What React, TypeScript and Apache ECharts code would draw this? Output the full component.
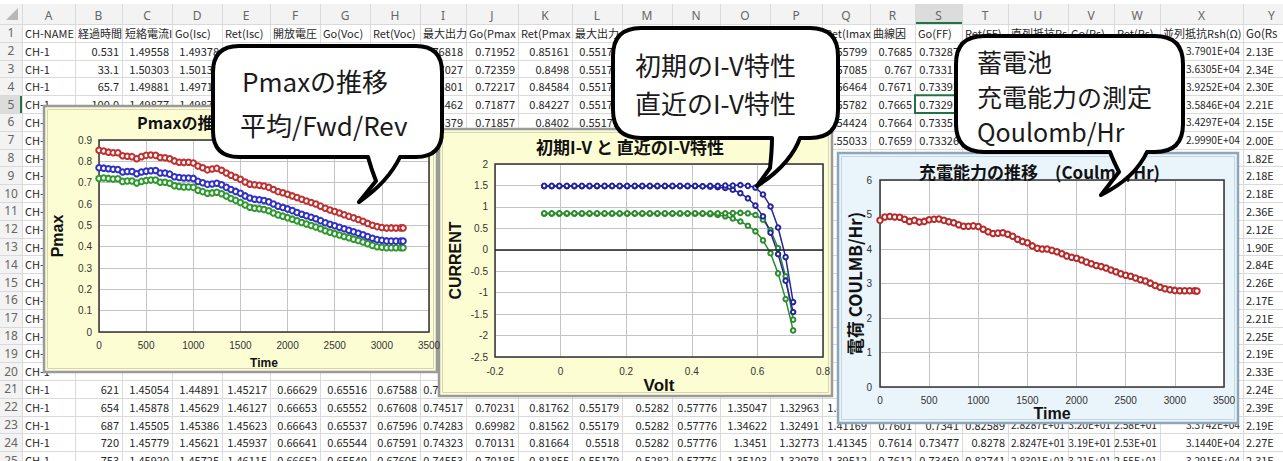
import React, { useEffect, useRef } from "react";
import * as echarts from "echarts";

// ---------------- chart data ----------------
const TIME = [0, 50, 100, 150, 200, 250, 300, 350, 400, 450, 500, 550, 600, 650, 700, 750, 800, 850, 900, 950, 1000, 1050, 1100, 1150, 1200, 1250, 1300, 1350, 1400, 1450, 1500, 1550, 1600, 1650, 1700, 1750, 1800, 1850, 1900, 1950, 2000, 2050, 2100, 2150, 2200, 2250, 2300, 2350, 2400, 2450, 2500, 2550, 2600, 2650, 2700, 2750, 2800, 2850, 2900, 2950, 3000, 3050, 3100, 3150, 3200, 3225];

const PMAX_RET = [0.852, 0.848, 0.843, 0.840, 0.840, 0.826, 0.824, 0.822, 0.812, 0.822,
  0.828, 0.830, 0.828, 0.818, 0.817, 0.812, 0.802, 0.796, 0.795, 0.796,
  0.792, 0.778, 0.770, 0.760, 0.764, 0.767, 0.758, 0.745, 0.735, 0.725,
  0.716, 0.703, 0.693, 0.690, 0.688, 0.684, 0.678, 0.668, 0.658, 0.653,
  0.646, 0.638, 0.630, 0.622, 0.614, 0.607, 0.600, 0.590, 0.580, 0.572,
  0.565, 0.558, 0.550, 0.542, 0.535, 0.527, 0.519, 0.509, 0.500, 0.494,
  0.490, 0.487, 0.488, 0.487, 0.488, 0.488];

const PMAX_AVG = [0.770, 0.768, 0.765, 0.763, 0.762, 0.750, 0.752, 0.752, 0.742, 0.750,
  0.754, 0.756, 0.757, 0.745, 0.745, 0.740, 0.728, 0.724, 0.722, 0.722,
  0.720, 0.706, 0.700, 0.692, 0.694, 0.697, 0.690, 0.678, 0.668, 0.659,
  0.650, 0.638, 0.628, 0.622, 0.620, 0.616, 0.610, 0.600, 0.590, 0.584,
  0.577, 0.569, 0.560, 0.552, 0.545, 0.538, 0.531, 0.522, 0.512, 0.505,
  0.498, 0.491, 0.484, 0.477, 0.470, 0.463, 0.456, 0.447, 0.439, 0.433,
  0.430, 0.427, 0.426, 0.426, 0.426, 0.426];

const PMAX_GO = [0.720, 0.722, 0.720, 0.717, 0.718, 0.706, 0.708, 0.708, 0.698, 0.706,
  0.710, 0.712, 0.712, 0.702, 0.702, 0.697, 0.686, 0.682, 0.680, 0.680,
  0.678, 0.664, 0.658, 0.650, 0.652, 0.655, 0.648, 0.637, 0.626, 0.617,
  0.607, 0.595, 0.585, 0.580, 0.578, 0.574, 0.568, 0.558, 0.549, 0.543,
  0.536, 0.529, 0.521, 0.513, 0.506, 0.499, 0.492, 0.484, 0.475, 0.468,
  0.461, 0.455, 0.448, 0.442, 0.435, 0.429, 0.422, 0.414, 0.406, 0.400,
  0.397, 0.395, 0.395, 0.395, 0.395, 0.395];

const COULOMB = [4.83, 4.93, 4.94, 4.93, 4.92, 4.86, 4.80, 4.83, 4.78, 4.80,
  4.85, 4.86, 4.87, 4.83, 4.79, 4.76, 4.70, 4.66, 4.66, 4.67,
  4.65, 4.57, 4.50, 4.45, 4.46, 4.47, 4.43, 4.37, 4.28, 4.22,
  4.18, 4.09, 4.02, 4.00, 4.00, 3.96, 3.92, 3.86, 3.80, 3.76,
  3.73, 3.68, 3.62, 3.57, 3.52, 3.49, 3.45, 3.39, 3.34, 3.28,
  3.24, 3.21, 3.16, 3.11, 3.07, 3.01, 2.94, 2.89, 2.85, 2.82,
  2.80, 2.79, 2.79, 2.79, 2.79, 2.78];

const IV_VOLT = [-0.05, -0.027, -0.004, 0.019, 0.042, 0.065, 0.088, 0.111, 0.134, 0.157, 0.18, 0.203, 0.226, 0.249, 0.272, 0.295, 0.318, 0.341, 0.364, 0.387, 0.41, 0.433, 0.456, 0.479, 0.502, 0.525, 0.548, 0.571, 0.594, 0.617, 0.64, 0.663, 0.686, 0.709];

const IV_BLUE_INIT = [1.49, 1.49, 1.49, 1.49, 1.49, 1.49, 1.49, 1.49, 1.49, 1.49, 1.49, 1.49, 1.49, 1.49, 1.49, 1.49, 1.49, 1.49, 1.49, 1.49, 1.49, 1.48, 1.49, 1.49,
  1.50, 1.50, 1.51, 1.49, 1.45, 1.29, 1.01, 0.52, -0.17, -1.22];
const IV_BLUE_NOW = [1.48, 1.48, 1.48, 1.48, 1.48, 1.48, 1.48, 1.48, 1.48, 1.48, 1.48, 1.48, 1.48, 1.48, 1.48, 1.48, 1.48, 1.48, 1.48, 1.48, 1.48,
  1.48, 1.47, 1.46, 1.44, 1.40, 1.32, 1.20, 1.03, 0.78, 0.40, -0.10, -0.72, -1.45];
const IV_GREEN_INIT = [0.85, 0.85, 0.85, 0.85, 0.85, 0.85, 0.85, 0.85, 0.85, 0.85, 0.85, 0.85, 0.85, 0.85, 0.85, 0.85, 0.85, 0.85, 0.85, 0.85, 0.85, 0.85, 0.85, 0.85,
  0.85, 0.855, 0.86, 0.85, 0.81, 0.70, 0.46, 0.04, -0.62, -1.63];
const IV_GREEN_NOW = [0.84, 0.84, 0.84, 0.84, 0.84, 0.84, 0.84, 0.84, 0.84, 0.84, 0.84, 0.84, 0.84, 0.84, 0.84, 0.84, 0.84, 0.84, 0.84, 0.84, 0.84,
  0.84, 0.83, 0.81, 0.78, 0.73, 0.66, 0.56, 0.43, 0.22, -0.08, -0.55, -1.15, -1.88];

// ---------------- spreadsheet data ----------------
const COL_LETTERS = ["A", "B", "C", "D", "E", "F", "G", "H", "I", "J", "K", "L", "M", "N", "O", "P", "Q", "R", "S", "T", "U", "V", "W", "X", "Y"];
const HEADER_ROW = ["CH-NAME", "経過時間(s)", "短絡電流Isc", "Go(Isc)", "Ret(Isc)", "開放電圧Voc", "Go(Voc)", "Ret(Voc)", "最大出力Pmax", "Go(Pmax)", "Ret(Pmax)", "最大出力Vmax", "Go(Vmax)", "Ret(Vmax)", "最大出力Imax", "Go(Imax)", "Ret(Imax)", "曲線因子", "Go(FF)", "Ret(FF)", "直列抵抗Rs(Ω)", "Go(Rs)", "Ret(Rs)", "並列抵抗Rsh(Ω)", "Go(Rsh)"];
const ROW_2 = ["CH-1", "0.531", "1.49558", "1.49378", "", "", "", "", "0.76818", "0.71952", "0.85161", "0.55179", "", "", "", "", "1.55799", "0.7685", "0.73287", "", "", "", "", "3.7901E+04", "2.13E+04"];
const ROW_3 = ["CH-1", "33.1", "1.50303", "1.50132", "", "", "", "", "0.77027", "0.72359", "0.8498", "0.55179", "", "", "", "", "1.57085", "0.767", "0.73311", "", "", "", "", "3.6305E+04", "2.34E+04"];
const ROW_4 = ["CH-1", "65.7", "1.49881", "1.49712", "", "", "", "", "0.76801", "0.72217", "0.84584", "0.55179", "", "", "", "", "1.56464", "0.7671", "0.73392", "", "", "", "", "3.9252E+04", "2.30E+04"];
const ROW_5 = ["CH-1", "100.0", "1.49877", "1.49871", "", "", "", "", "0.76462", "0.71877", "0.84227", "0.55179", "", "", "", "", "1.55782", "0.7665", "0.73291", "", "", "", "", "3.5846E+04", "2.21E+04"];
const ROW_6 = ["CH-1", "", "", "", "", "", "", "", "0.76379", "0.71857", "0.8402", "0.55179", "", "", "", "", "1.54424", "0.7664", "0.73351", "", "", "", "", "3.4297E+04", "2.15E+04"];
const ROW_7 = ["CH-1", "", "", "", "", "", "", "", "", "", "", "", "", "", "", "", "1.55033", "0.7659", "0.73326", "", "", "", "", "2.9990E+04", "2.00E+04"];
const LAST_COL_8_TO_20 = ["1.82E+04", "2.18E+04", "2.18E+04", "2.36E+04", "2.12E+04", "1.90E+04", "2.84E+04", "2.26E+04", "2.17E+04", "2.21E+04", "2.25E+04", "2.19E+04", "2.33E+04"];
const ROW_21 = ["CH-1", "621", "1.45054", "1.44891", "1.45217", "0.66629", "0.65516", "0.67588", "0.74751", "", "", "", "", "", "", "", "", "", "", "", "", "", "", "", "2.24E+04"];
const ROW_22 = ["CH-1", "654", "1.45878", "1.45629", "1.46127", "0.66653", "0.65552", "0.67608", "0.74517", "0.70231", "0.81762", "0.55179", "0.5282", "0.57776", "1.35047", "1.32963", "1.41632", "", "", "", "", "", "", "", "2.39E+04"];
const ROW_23 = ["CH-1", "687", "1.45505", "1.45386", "1.45623", "0.66643", "0.65537", "0.67596", "0.74283", "0.69982", "0.81562", "0.55179", "0.5282", "0.57776", "1.34622", "1.32491", "1.41169", "0.7601", "0.7341", "0.82589", "2.8287E+01", "3.20E+01", "2.58E+01", "3.3742E+04", "2.19E+04"];
const ROW_24 = ["CH-1", "720", "1.45779", "1.45621", "1.45937", "0.66641", "0.65544", "0.67591", "0.74323", "0.70131", "0.81664", "0.5518", "0.5282", "0.57776", "1.3451", "1.32773", "1.41345", "0.7614", "0.73477", "0.8278", "2.8247E+01", "3.19E+01", "2.53E+01", "3.1440E+04", "2.27E+04"];
const ROW_25 = ["CH-1", "753", "1.45920", "1.45725", "1.46115", "0.66652", "0.65549", "0.67605", "0.74553", "0.70185", "0.81855", "0.55179", "0.5282", "0.57776", "1.35103", "1.32978", "1.39512", "0.7612", "0.73459", "0.82741", "2.8301E+01", "3.21E+01", "2.55E+01", "3.2915E+04", "2.31E+04"];

// ---------------- bubble speech texts ----------------
const BUBBLE_1_LINES = ["Pmaxの推移", "平均/Fwd/Rev"];
const BUBBLE_2_LINES = ["初期のI-V特性", "直近のI-V特性"];
const BUBBLE_3_LINES = ["蓄電池", "充電能力の測定", "Qoulomb/Hr"];

// ---------------- layout ----------------
const W = 1283;
const H = 461;
const COL_EDGES = [0, 22, 75, 122, 172, 222, 270, 320, 370, 420, 466, 518, 572, 622, 672, 720, 770, 822, 870, 915, 962, 1008, 1068, 1114, 1160, 1243, 1300];
const HEAD_TOP = 4;
const HEAD_BOTTOM = 24;
const ROW_H = 17.8;

const G1 = { left: 99, top: 140, width: 330, height: 192 };
const G2 = { left: 495, top: 164, width: 328, height: 193 };
const G3 = { left: 880, top: 180, width: 344, height: 207 };

const FONT_JP = "'Noto Sans CJK JP', sans-serif";
const FONT_LAT = "'Liberation Sans', Arial, sans-serif";

const BUBBLE_PATHS: Record<string, string> = {
  bubbleA: "M239 46 H416 Q442 46 442 72 V131 Q442 157 416 157 H400 Q388 182 359 202 L376 181 Q371 168 368 157 H239 Q213 157 213 131 V72 Q213 46 239 46 Z",
  bubbleB: "M641 28 H810 Q838 28 838 56 V110 Q838 138 810 138 H800 Q790 165 757 186 L770 168 Q772 150 772 138 H641 Q613 138 613 110 V56 Q613 28 641 28 Z",
  bubbleC: "M984 36 H1155 Q1183 36 1183 64 V124 Q1183 152 1155 152 H1147 Q1135 178 1101 195 L1119 172 Q1113 160 1110 152 H984 Q956 152 956 124 V64 Q956 36 984 36 Z",
};
Object.keys(BUBBLE_PATHS).forEach((k) => {
  echarts.graphic.registerShape(k, (echarts.graphic as any).extendPath(BUBBLE_PATHS[k], {}));
});

function sheetRows(): string[][] {
  const blankWithLast = (last: string) => ["CH-1", ...new Array(23).fill(""), last];
  return [HEADER_ROW, ROW_2, ROW_3, ROW_4, ROW_5, ROW_6, ROW_7, ...LAST_COL_8_TO_20.map(blankWithLast), ROW_21, ROW_22, ROW_23, ROW_24, ROW_25];
}

function txt(x: number, y: number, text: string, o: any = {}, z = 0): any {
  const align = o.align || "left";
  return {
    type: "text",
    x,
    y,
    z,
    rotation: o.rotation || 0,
    silent: true,
    style: {
      text,
      fill: o.fill || "#262626",
      fontSize: o.fontSize || 12,
      fontFamily: o.fontFamily || FONT_JP,
      fontWeight: o.fontWeight || "normal",
      align,
      textAlign: align,
      verticalAlign: "middle",
      textVerticalAlign: "middle",
      ...(o.width ? { width: o.width, overflow: "truncate", ellipsis: "" } : {}),
    },
  };
}

function sheetGraphics(): any[] {
  const els: any[] = [];
  els.push({ type: "rect", z: 0, silent: true, shape: { x: 0, y: 0, width: W, height: H }, style: { fill: "#ffffff" } });
  els.push({ type: "rect", z: 0, silent: true, shape: { x: 0, y: HEAD_TOP, width: W, height: HEAD_BOTTOM - HEAD_TOP }, style: { fill: "#f3f3f3" } });
  els.push({ type: "rect", z: 0, silent: true, shape: { x: 0, y: HEAD_BOTTOM, width: COL_EDGES[1], height: H }, style: { fill: "#f3f3f3" } });
  els.push({ type: "rect", z: 0, silent: true, shape: { x: COL_EDGES[19], y: HEAD_TOP, width: COL_EDGES[20] - COL_EDGES[19], height: HEAD_BOTTOM - HEAD_TOP }, style: { fill: "#dcdcdc" } });
  els.push({ type: "line", z: 0, silent: true, shape: { x1: COL_EDGES[19], y1: HEAD_BOTTOM - 1, x2: COL_EDGES[20], y2: HEAD_BOTTOM - 1 }, style: { stroke: "#217346", lineWidth: 2 } });
  els.push({ type: "rect", z: 0, silent: true, shape: { x: 0, y: HEAD_BOTTOM + 4 * ROW_H, width: COL_EDGES[1], height: ROW_H }, style: { fill: "#dcdcdc" } });
  els.push({ type: "line", z: 0, silent: true, shape: { x1: COL_EDGES[1] - 1, y1: HEAD_BOTTOM + 4 * ROW_H, x2: COL_EDGES[1] - 1, y2: HEAD_BOTTOM + 5 * ROW_H }, style: { stroke: "#217346", lineWidth: 2 } });
  els.push({ type: "polygon", z: 0, silent: true, shape: { points: [[18, 8], [18, 20], [6, 20]] }, style: { fill: "#b8b8b8" } });
  for (let i = 1; i < COL_EDGES.length; i++) {
    const x = COL_EDGES[i] + 0.5;
    els.push({ type: "line", z: 0, silent: true, shape: { x1: x, y1: HEAD_TOP, x2: x, y2: H }, style: { stroke: "#dadada", lineWidth: 1 } });
  }
  for (let r = 0; r <= 25; r++) {
    const y = Math.round(HEAD_BOTTOM + r * ROW_H) + 0.5;
    els.push({ type: "line", z: 0, silent: true, shape: { x1: 0, y1: y, x2: W, y2: y }, style: { stroke: "#dadada", lineWidth: 1 } });
  }
  COL_LETTERS.forEach((l, c) => {
    const cx = Math.min((COL_EDGES[c + 1] + COL_EDGES[c + 2]) / 2, W - 8);
    els.push(txt(cx, (HEAD_TOP + HEAD_BOTTOM) / 2 + 1, l, { align: "center", fill: "#666", fontFamily: "'Noto Sans', sans-serif", fontSize: 12 }));
  });
  const rows = sheetRows();
  const lastCol = COL_LETTERS.length - 1;
  rows.forEach((row, ri) => {
    const yc = HEAD_BOTTOM + (ri + 0.5) * ROW_H;
    els.push(txt(11, yc, String(ri + 1), { align: "center", fill: "#666", fontFamily: "'Noto Sans', sans-serif", fontSize: 12 }));
    row.forEach((v, c) => {
      if (!v) return;
      const left = COL_EDGES[c + 1];
      const right = COL_EDGES[c + 2];
      const numeric = /^[-+\d.E]+$/.test(v);
      const sci = v.indexOf("E") >= 0;
      if (c === lastCol) {
        els.push(txt(left + 3, yc, v, { align: "left", fontSize: numeric ? 11 : 11.5, width: W - left - 5 }));
      } else if (numeric) {
        els.push(txt(right - 3, yc, v, { align: "right", fontSize: sci ? 10.2 : 11 }));
      } else {
        els.push(txt(left + 3, yc, v, { align: "left", fontSize: 11, width: right - left - 1 }));
      }
    });
  });
  els.push({ type: "rect", z: 0, silent: true, shape: { x: COL_EDGES[19], y: HEAD_BOTTOM + 4 * ROW_H, width: COL_EDGES[20] - COL_EDGES[19], height: ROW_H }, style: { fill: "none", stroke: "#217346", lineWidth: 2 } });
  return els;
}

function panelGraphics(): any[] {
  const els: any[] = [];
  const panel = (x: number, y: number, w: number, h: number, fill: string, outer: string, inner: string) => {
    els.push({ type: "rect", z: 1, silent: true, shape: { x, y, width: w, height: h }, style: { fill, stroke: outer, lineWidth: 2.5 } });
    els.push({ type: "rect", z: 1, silent: true, shape: { x: x + 3.5, y: y + 3.5, width: w - 7, height: h - 7 }, style: { fill: "none", stroke: inner, lineWidth: 1 } });
  };
  panel(44, 106, 393, 266, "#fdfdd3", "#9a9a9a", "#d4d4bc");
  panel(439, 129, 393, 267, "#fdfdd3", "#9a9a9a", "#d4d4bc");
  panel(838, 153, 400, 270, "#e9f4fb", "#8fa6b8", "#c4d6e3");
  [G1, G2, G3].forEach((g) => {
    els.push({ type: "rect", z: 3.5, silent: true, shape: { x: g.left, y: g.top, width: g.width, height: g.height }, style: { fill: "none", stroke: "#333", lineWidth: 1.5 } });
  });
  els.push(txt(137, 122, "Pmaxの推移", { fontSize: 16, fontWeight: "bold", fill: "#111" }, 5));
  els.push(txt(630, 146, "初期I-V と 直近のI-V特性", { align: "center", fontSize: 17, fontWeight: "bold", fill: "#111" }, 5));
  els.push(txt(919, 171, "充電能力の推移　(Coulmb/Hr)", { fontSize: 17, fontWeight: "bold", fill: "#111" }, 5));
  return els;
}

function bubbleGraphics(): any[] {
  const els: any[] = [];
  ["bubbleA", "bubbleB", "bubbleC"].forEach((t) => {
    els.push({ type: t, z: 10, silent: true, x: 0, y: 0, style: { fill: "#ffffff", stroke: "#000000", lineWidth: 4, lineJoin: "round" } });
  });
  const bt = { fontSize: 26, fill: "#1a1a1a" };
  const bt3 = { fontSize: 25, fill: "#1a1a1a" };
  els.push(txt(242, 80, BUBBLE_1_LINES[0], bt, 11));
  els.push(txt(240, 124, BUBBLE_1_LINES[1], bt, 11));
  els.push(txt(635, 64, BUBBLE_2_LINES[0], bt, 11));
  els.push(txt(635, 102, BUBBLE_2_LINES[1], bt, 11));
  els.push(txt(977, 61, BUBBLE_3_LINES[0], bt3, 11));
  els.push(txt(977, 96, BUBBLE_3_LINES[1], bt3, 11));
  els.push(txt(977, 131, BUBBLE_3_LINES[2], bt3, 11));
  return els;
}

function buildOption(): any {
  const plain = (v: number) => String(Math.round(v * 1000) / 1000);
  const lbl = { fontSize: 10, color: "#333", fontFamily: FONT_LAT, formatter: plain };
  const split = { show: true, lineStyle: { color: "#c4c4c4", width: 1 } };
  const nameStyle = (size: number, family = FONT_LAT) => ({ fontFamily: family, fontWeight: "bold", fontSize: size, color: "#111" });
  const baseX = { type: "value", axisLine: { show: false }, axisTick: { show: false }, splitLine: split, nameLocation: "middle", z: 3 };
  const baseY = { type: "value", axisLine: { show: false }, axisTick: { show: false }, splitLine: split, nameLocation: "middle", nameRotate: 90, z: 3 };
  const pair = (xs: number[], ys: number[]) => xs.map((x, i) => [x, ys[i]]);
  const ptSeries = (xi: number, data: number[][], color: string, size: number, lw: number) => ({
    type: "line",
    xAxisIndex: xi,
    yAxisIndex: xi,
    data,
    symbol: "emptyCircle",
    symbolSize: size,
    showSymbol: true,
    lineStyle: { color, width: lw },
    itemStyle: { color, borderColor: color, borderWidth: 1.2 },
    z: 4,
    silent: true,
  });
  const ivBlue = "#24249c";
  const ivGreen = "#2b8c2b";
  return {
    animation: false,
    backgroundColor: "#ffffff",
    graphic: { elements: [...sheetGraphics(), ...panelGraphics(), ...bubbleGraphics()] },
    grid: [G1, G2, G3].map((g) => ({ ...g, show: true, backgroundColor: "#ffffff", borderWidth: 0, z: 2 })),
    xAxis: [
      { ...baseX, gridIndex: 0, min: 0, max: 3500, interval: 500, axisLabel: { ...lbl, margin: 8 }, name: "Time", nameGap: 25, nameTextStyle: nameStyle(12) },
      { ...baseX, gridIndex: 1, min: -0.2, max: 0.8, interval: 0.2, axisLabel: { ...lbl, margin: 9 }, name: "Volt", nameGap: 20, nameTextStyle: nameStyle(17) },
      { ...baseX, gridIndex: 2, min: 0, max: 3500, interval: 500, axisLabel: { ...lbl, margin: 8 }, name: "Time", nameGap: 14, nameTextStyle: nameStyle(16) },
    ],
    yAxis: [
      { ...baseY, gridIndex: 0, min: 0, max: 0.9, interval: 0.1, axisLabel: { ...lbl, margin: 7 }, name: "Pmax", nameGap: 34, nameTextStyle: nameStyle(16) },
      { ...baseY, gridIndex: 1, min: -2.5, max: 2, interval: 0.5, axisLabel: { ...lbl, margin: 7 }, name: "CURRENT", nameGap: 32, nameTextStyle: nameStyle(16) },
      { ...baseY, gridIndex: 2, min: 0, max: 6, interval: 1, axisLabel: { ...lbl, margin: 8 }, name: "電荷 COULMB/Hr)", nameGap: 15, nameTextStyle: nameStyle(17, FONT_JP) },
    ],
    series: [
      ptSeries(0, pair(TIME, PMAX_GO), "#2e9a2e", 5.5, 1),
      ptSeries(0, pair(TIME, PMAX_AVG), "#3030c8", 5.5, 1),
      ptSeries(0, pair(TIME, PMAX_RET), "#c03030", 5.5, 1),
      {
        ...ptSeries(1, pair(IV_VOLT, IV_GREEN_NOW), ivGreen, 4.5, 1.5),
        markLine: { silent: true, symbol: ["none", "none"], label: { show: false }, lineStyle: { color: "#222", width: 1.5, type: "solid" }, data: [{ yAxis: 0 }] },
      },
      ptSeries(1, pair(IV_VOLT, IV_GREEN_INIT), ivGreen, 4.5, 1.5),
      ptSeries(1, pair(IV_VOLT, IV_BLUE_NOW), ivBlue, 4.5, 1.5),
      ptSeries(1, pair(IV_VOLT, IV_BLUE_INIT), ivBlue, 4.5, 1.5),
      ptSeries(2, pair(TIME, COULOMB), "#b82a2a", 5.5, 1),
    ],
  };
}

export default function App() {
  const ref = useRef<HTMLDivElement>(null);
  useEffect(() => {
    document.body.style.margin = "0";
    document.body.style.overflow = "hidden";
    const chart = echarts.init(ref.current as HTMLDivElement, null, { renderer: "svg" });
    chart.setOption(buildOption());
    return () => chart.dispose();
  }, []);
  return <div ref={ref} style={{ width: W, height: H }} />;
}
